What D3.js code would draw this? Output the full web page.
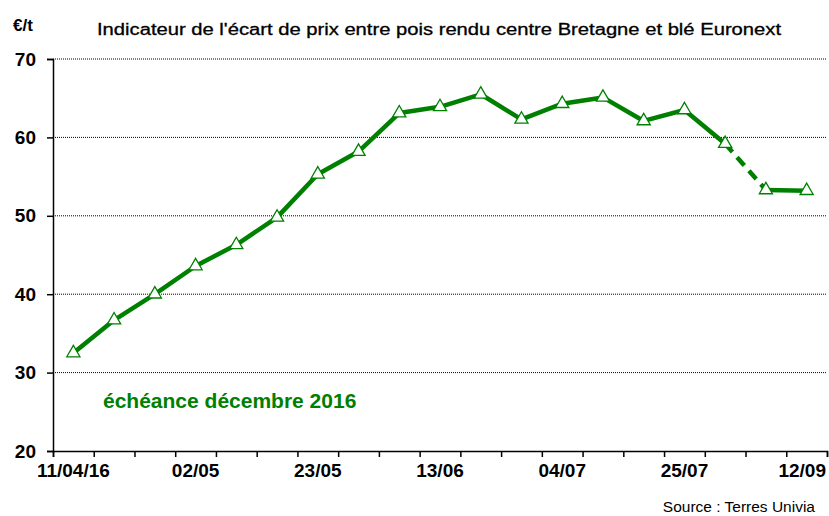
<!DOCTYPE html>
<html>
<head>
<meta charset="utf-8">
<script src="https://cdn.jsdelivr.net/npm/d3@7"></script>
<style>
  body { margin: 0; background: #fff; }
  svg { display: block; font-family: "Liberation Sans", Arial, sans-serif; }
</style>
</head>
<body>
<svg id="chart" width="829" height="516"></svg>
<script>
// ---- Data ----
const weeks = ["11/04/16", "18/04", "25/04", "02/05", "09/05", "16/05", "23/05", "30/05",
  "06/06", "13/06", "20/06", "27/06", "04/07", "11/07", "18/07", "25/07", "01/08", "05/09", "12/09"];
const ecart = [32.5, 36.7, 40.0, 43.6, 46.3, 49.8, 55.3, 58.2, 63.1, 63.9, 65.5, 62.3,
  64.3, 65.1, 62.1, 63.5, 59.2, 53.3, 53.2];
const shownLabels = ["11/04/16", "02/05", "23/05", "13/06", "04/07", "25/07", "12/09"];
const yTicks = [20, 30, 40, 50, 60, 70];
const gapAfter = "01/08"; // dashed link to next point (weeks missing)

const green = "#008000";
const svg = d3.select("#chart");
const M = { left: 53, right: 827, top: 59, bottom: 451 };

const x = d3.scaleBand().domain(weeks).range([M.left, M.right]).padding(0);
const cx = (w) => x(w) + x.bandwidth() / 2;
const y = d3.scaleLinear().domain([20, 70]).range([M.bottom, M.top]);
const pts = weeks.map((w, i) => ({ w, v: ecart[i], i }));

// ---- Gridlines ----
svg.append("g")
  .selectAll("line")
  .data(yTicks.filter((t) => t > 20))
  .join("line")
  .attr("x1", M.left).attr("x2", M.right)
  .attr("y1", (d) => y(d)).attr("y2", (d) => y(d))
  .attr("stroke", "#000").attr("stroke-width", 1)
  .attr("stroke-dasharray", "1,1");

// ---- Axes ----
const yAxis = svg.append("g")
  .attr("transform", `translate(${M.left},0)`)
  .call(d3.axisLeft(y).tickValues(yTicks).tickSize(6).tickPadding(11));
yAxis.select(".domain").attr("stroke-width", 1.5);
yAxis.selectAll(".tick line").attr("stroke-width", 1.5);
yAxis.selectAll("text")
  .attr("font-size", 19).attr("font-weight", "bold").attr("fill", "#000")
  .attr("font-family", "Liberation Sans, Arial, sans-serif");

// boundary ticks between categories
const idx = d3.scaleLinear().domain([0, weeks.length]).range([M.left, M.right]);
const xTicks = svg.append("g")
  .attr("transform", `translate(0,${M.bottom})`)
  .call(d3.axisBottom(idx).tickValues(d3.range(weeks.length + 1)).tickSize(6).tickFormat(""));
xTicks.select(".domain").attr("stroke-width", 1.5);
xTicks.selectAll(".tick line").attr("stroke-width", 1.5);

const xLabels = svg.append("g")
  .attr("transform", `translate(0,${M.bottom})`)
  .call(d3.axisBottom(x).tickValues(shownLabels).tickSize(0).tickPadding(13));
xLabels.select(".domain").remove();
xLabels.selectAll("text")
  .attr("font-size", 19).attr("font-weight", "bold").attr("fill", "#000")
  .attr("font-family", "Liberation Sans, Arial, sans-serif");
// last label sits flush with the right edge
xLabels.selectAll(".tick").filter((d) => d === weeks[weeks.length - 1])
  .select("text").attr("text-anchor", "end").attr("x", M.right - 1 - cx(weeks[weeks.length - 1]));

// ---- Line ----
const line = d3.line().x((d) => cx(d.w)).y((d) => y(d.v));
const gi = weeks.indexOf(gapAfter);
[pts.slice(0, gi + 1), pts.slice(gi + 1)].forEach((seg) => {
  svg.append("path").datum(seg)
    .attr("d", line).attr("fill", "none")
    .attr("stroke", green).attr("stroke-width", 4.5)
    .attr("stroke-linejoin", "round");
});
svg.append("path").datum(pts.slice(gi, gi + 2))
  .attr("d", line).attr("fill", "none")
  .attr("stroke", green).attr("stroke-width", 4.5)
  .attr("stroke-dasharray", "11,7");

// markers: open triangles
const tri = d3.symbol().type(d3.symbolTriangle).size(75);
svg.append("g")
  .selectAll("path")
  .data(pts)
  .join("path")
  .attr("d", tri)
  .attr("transform", (d) => `translate(${cx(d.w)},${y(d.v)})`)
  .attr("fill", "#fff").attr("stroke", green).attr("stroke-width", 1.3);

// ---- Texts ----
svg.append("text")
  .attr("x", 439).attr("y", 35)
  .attr("text-anchor", "middle")
  .attr("font-size", 16)
  .attr("stroke", "#000").attr("stroke-width", 0.3)
  .attr("textLength", 684).attr("lengthAdjust", "spacingAndGlyphs")
  .text("Indicateur de l'écart de prix entre pois rendu centre Bretagne et blé Euronext");

svg.append("text")
  .attr("x", 13).attr("y", 31)
  .attr("font-size", 17).attr("font-weight", "bold")
  .text("€/t");

svg.append("text")
  .attr("x", 103).attr("y", 408)
  .attr("font-size", 21).attr("font-weight", "bold").attr("fill", green)
  .text("échéance décembre 2016");

svg.append("text")
  .attr("x", 815).attr("y", 512)
  .attr("text-anchor", "end")
  .attr("font-size", 15.5)
  .text("Source : Terres Univia");
</script>
</body>
</html>
